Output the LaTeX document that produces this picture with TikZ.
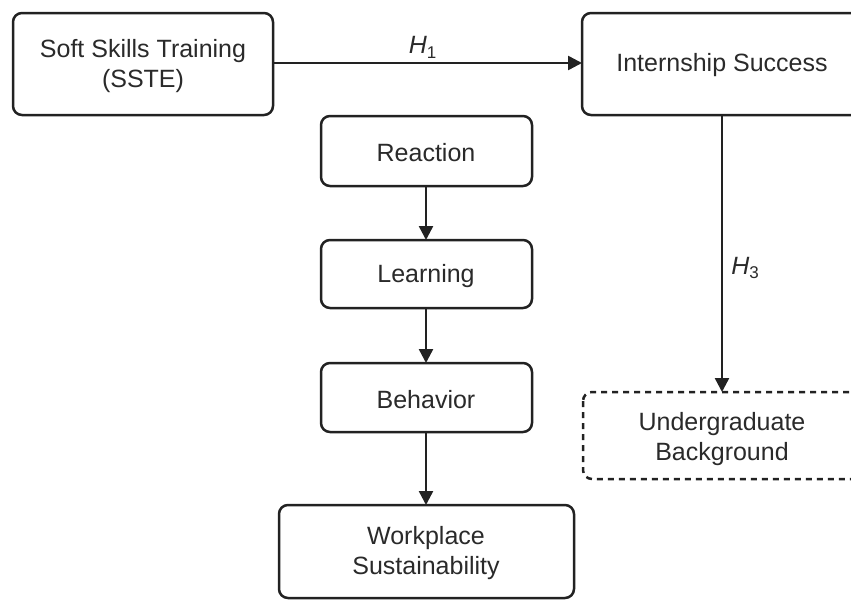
\documentclass[tikz,border=0pt]{standalone}
\usepackage{fontspec}
\setmainfont{Liberation Sans}
\usetikzlibrary{arrows.meta}
\definecolor{ink}{HTML}{222222}
\definecolor{txt}{HTML}{2a2a2a}
\tikzset{
  box/.style={draw=ink, line width=2.5pt, rounded corners=9pt, fill=white},
  lbl/.style={text=txt, font=\fontsize{25}{30}\selectfont, align=center},
  conn/.style={draw=ink, line width=2.5pt, -{Triangle[length=14pt,width=14pt]}},
  hyp/.style={text=txt, font=\fontsize{25}{28}\selectfont}
}
\newcommand{\hyplabel}[1]{{\itshape H}\raisebox{-0.35ex}{\fontsize{17}{17}\selectfont #1}}
\begin{document}
\begin{tikzpicture}[x=1pt,y=-1pt]
\useasboundingbox (0,0) rectangle (851,605);
\clip (0,0) rectangle (851,605);
% boxes
\draw[box] (13,13) rectangle (273,115);
\node[lbl] (sste) at (143,66) {Soft Skills Training\\(SSTE)};
\coordinate (ssteR) at (273,63);
\draw[box] (582,13) rectangle (865,115);
\node[lbl] (intern) at (722,65) {Internship Success};
\coordinate (internL) at (582,63);
\coordinate (internB) at (722,115);
\draw[box] (321,116) rectangle (532,186);
\node[lbl] (reac) at (426,153) {Reaction};
\coordinate (reacB) at (426,186);
\draw[box] (321,240) rectangle (532,308);
\node[lbl] (learn) at (426,276) {Learning};
\coordinate (learnT) at (426,240);
\coordinate (learnB) at (426,308);
\draw[box] (321,363) rectangle (532,432);
\node[lbl] (behav) at (426,400) {Behavior};
\coordinate (behavT) at (426,363);
\coordinate (behavB) at (426,432);
\draw[box] (279,505) rectangle (574,598);
\node[lbl] (work) at (426,553) {Workplace\\Sustainability};
\coordinate (workT) at (426,505);
\draw[box, dashed, dash pattern=on 6pt off 5pt] (583,392) rectangle (865,479);
\node[lbl] (under) at (722,439) {Undergraduate\\Background};
\coordinate (underT) at (722,392);
% connectors
\draw[conn] (ssteR) -- (internL) node[hyp, midway, above=0pt, xshift=-5pt] (h1) {\hyplabel{1}};
\draw[conn] (reacB) -- (learnT);
\draw[conn] (learnB) -- (behavT);
\draw[conn] (behavB) -- (workT);
\draw[conn] (internB) -- (underT);
\node[hyp] (h3) at (745,268) {\hyplabel{3}};
\end{tikzpicture}
\end{document}
